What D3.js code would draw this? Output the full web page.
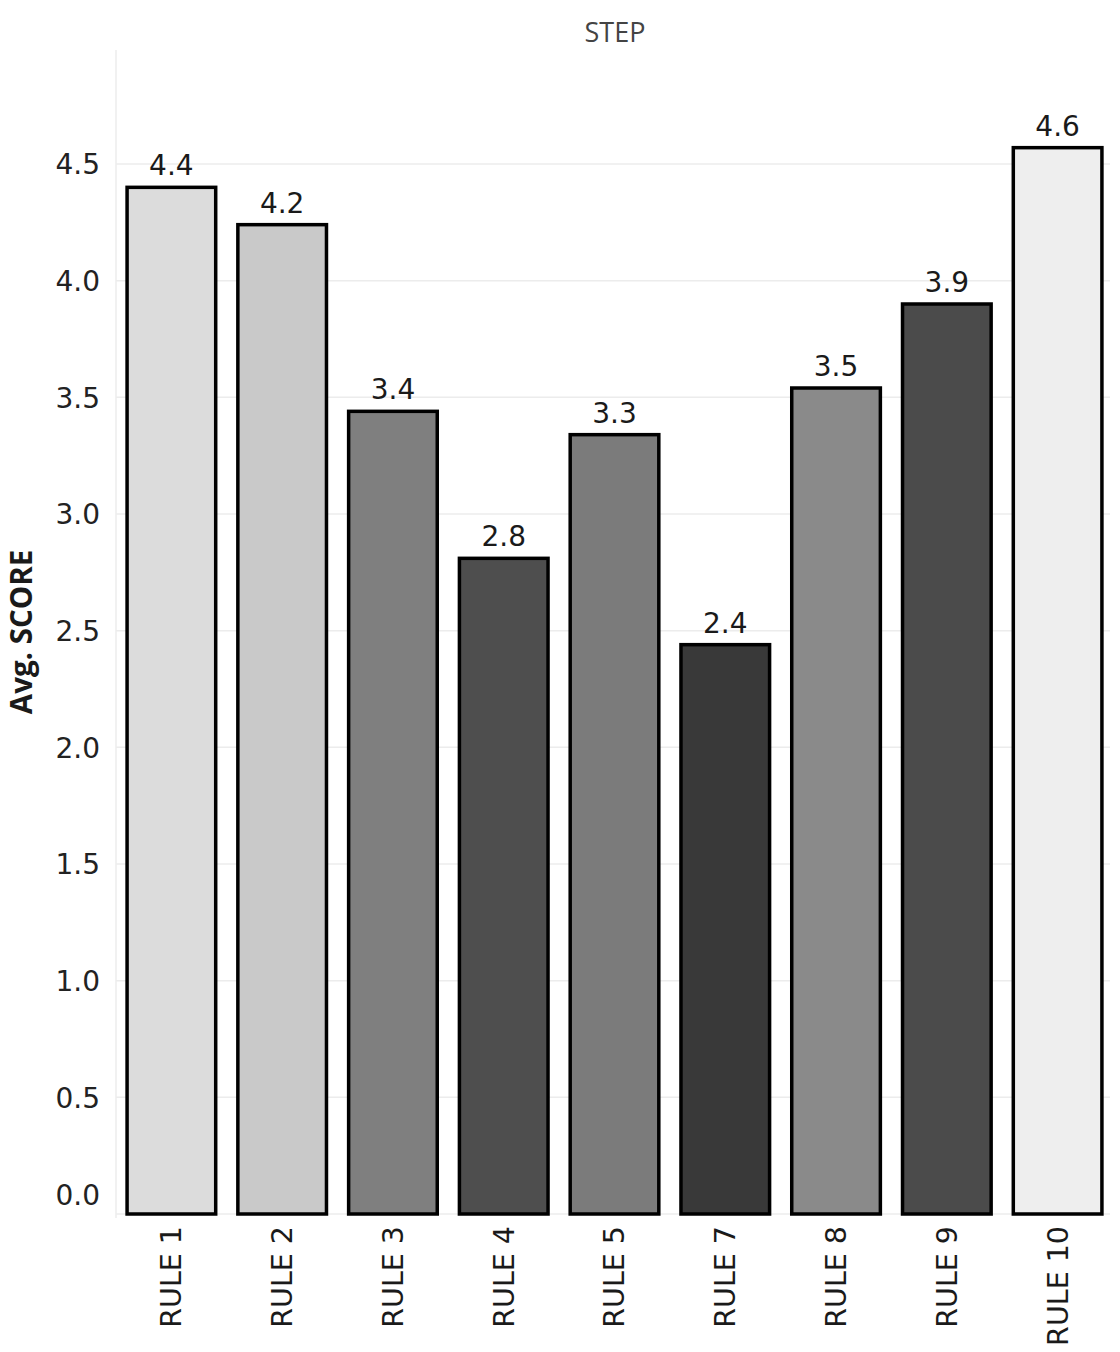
<!DOCTYPE html>
<html>
<head>
<meta charset="utf-8">
<script src="https://cdn.jsdelivr.net/npm/d3@7"></script>
<style>
  html, body { margin: 0; padding: 0; background: #fff; }
  svg { display: block; }
</style>
</head>
<body>
<script>
const categories = ["RULE 1", "RULE 2", "RULE 3", "RULE 4", "RULE 5", "RULE 7", "RULE 8", "RULE 9", "RULE 10"];
const scores = [4.40, 4.24, 3.44, 2.81, 3.34, 2.44, 3.54, 3.90, 4.57];
const barColors = ["#dcdcdc", "#c9c9c9", "#7f7f7f", "#4e4e4e", "#7b7b7b", "#393939", "#8a8a8a", "#4b4b4b", "#eeeeee"];
const yTicks = [0, 0.5, 1.0, 1.5, 2.0, 2.5, 3.0, 3.5, 4.0, 4.5];
const chartTitle = "STEP";
const yTitle = "Avg. SCORE";

const W = 1120, H = 1352;
const plotLeft = 116, plotRight = 1113, plotTop = 50, plotBottom = 1214;

const svg = d3.select("body").append("svg").attr("width", W).attr("height", H);

const x = d3.scaleBand().domain(categories).range([plotLeft, plotRight]).paddingInner(0.2).paddingOuter(0.1);
const y = d3.scaleLinear().domain([0, 4.5]).range([plotBottom, 164]);

// gridlines
svg.append("g").selectAll("line").data(yTicks).join("line")
  .attr("x1", plotLeft).attr("x2", plotRight - 3)
  .attr("y1", d => y(d)).attr("y2", d => y(d))
  .attr("stroke", "#ececec").attr("stroke-width", 1.5);

// vertical axis line
svg.append("line")
  .attr("x1", plotLeft).attr("x2", plotLeft)
  .attr("y1", plotTop).attr("y2", plotBottom + 4)
  .attr("stroke", "#ececec").attr("stroke-width", 1.5);

// y tick labels
const yAxis = d3.axisLeft(y).tickValues(yTicks).tickFormat(d3.format(".1f")).tickSize(0).tickPadding(16);
const yg = svg.append("g").attr("transform", `translate(${plotLeft},0)`).call(yAxis);
yg.select(".domain").remove();
yg.selectAll("text")
  .attr("font-family", "DejaVu Sans, sans-serif")
  .attr("font-size", 28)
  .attr("fill", "#222")
  .attr("dy", d => d === 0 ? "-0.35em" : "0.35em");

// bars
svg.append("g").selectAll("rect").data(categories).join("rect")
  .attr("x", d => x(d))
  .attr("y", (d, i) => y(scores[i]))
  .attr("width", x.bandwidth())
  .attr("height", (d, i) => y(0) - y(scores[i]))
  .attr("fill", (d, i) => barColors[i])
  .attr("stroke", "#000")
  .attr("stroke-width", 3.5);

// value labels
svg.append("g").selectAll("text").data(categories).join("text")
  .attr("x", d => x(d) + x.bandwidth() / 2)
  .attr("y", (d, i) => y(scores[i]) - 12)
  .attr("text-anchor", "middle")
  .attr("font-family", "DejaVu Sans, sans-serif")
  .attr("font-size", 28)
  .attr("fill", "#1a1a1a")
  .text((d, i) => d3.format(".1f")(scores[i]));

// x labels
const xAxis = d3.axisBottom(x).tickSize(0).tickPadding(0);
const xg = svg.append("g").attr("transform", `translate(0,${plotBottom})`).call(xAxis);
xg.select(".domain").remove();
xg.selectAll("text")
  .attr("font-family", "DejaVu Sans, sans-serif")
  .attr("font-size", 28.5)
  .attr("fill", "#1a1a1a")
  .attr("text-anchor", "end")
  .attr("transform", "rotate(-90)")
  .attr("x", -12)
  .attr("y", 0)
  .attr("dy", "0.35em");

// title
svg.append("text")
  .attr("x", 615).attr("y", 42)
  .attr("text-anchor", "middle")
  .attr("font-family", "Open Sans, sans-serif")
  .attr("font-size", 27)
  .attr("fill", "#444")
  .text(chartTitle);

// y title
svg.append("text")
  .attr("transform", "translate(32,632) rotate(-90)")
  .attr("text-anchor", "middle")
  .attr("font-family", "Open Sans, sans-serif")
  .attr("font-weight", "bold")
  .attr("font-size", 29.5)
  .attr("fill", "#1a1a1a")
  .text(yTitle);
</script>
</body>
</html>
